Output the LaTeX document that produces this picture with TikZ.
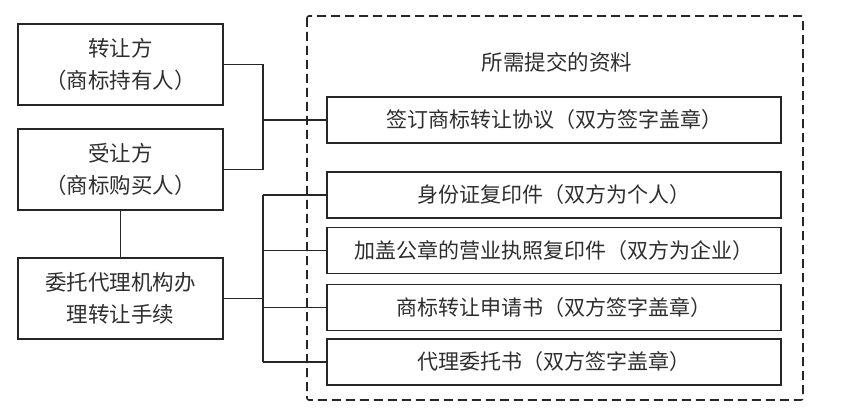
\documentclass[tikz,border=0pt]{standalone}
\usepackage{fontspec}
\setmainfont{Noto Sans CJK SC}
\begin{document}
\begin{tikzpicture}[x=1pt,y=-1pt,
  every node/.style={text=black!82},
  lbox/.style={draw=black!85,line width=1.8pt,minimum width=205pt,minimum height=81pt,align=center,inner sep=0pt,font=\fontsize{21.5}{32}\selectfont},
  rbox/.style={draw=black!85,line width=1.8pt,minimum width=454pt,minimum height=46pt,inner sep=0pt,font=\fontsize{21}{26}\selectfont},
  conn/.style={draw=black!85,line width=1.7pt}]
\useasboundingbox (0,0) rectangle (859,414);
\node[lbox] (t1) at (120.5,64.5) {转让方\\（商标持有人）};
\node[lbox] (t2) at (120.5,169.5) {受让方\\（商标购买人）};
\node[lbox] (t3) at (120.5,298.5) {委托代理机构办\\理转让手续};
\draw[draw=black!85,line width=1.6pt,dash pattern=on 9pt off 5pt,rounded corners=2pt] (307,16) rectangle (803,400);
\node[font=\fontsize{21.5}{26}\selectfont] (title) at (557,62) {所需提交的资料};
\node[rbox] (r1) at (554,120) {签订商标转让协议（双方签字盖章）};
\node[rbox] (r2) at (554,195) {身份证复印件（双方为个人）};
\node[rbox] (r3) at (554,250.5) {加盖公章的营业执照复印件（双方为企业）};
\node[rbox] (r4) at (554,307.5) {商标转让申请书（双方签字盖章）};
\node[rbox] (r5) at (554,362) {代理委托书（双方签字盖章）};
\coordinate (ja) at (263,0);
\coordinate (jb) at (263,0);
\draw[conn] (t1.east) -| (ja|-t2.east) -- (t2.east);
\draw[conn] (ja|-r1.west) -- (r1.west);
\draw[conn] (t2.south) -- (t3.north);
\draw[conn] (jb|-r2.west) -- (jb|-r5.west);
\draw[conn] (t3.east) -- (jb|-t3.east);
\draw[conn] (jb|-r2.west) -- (r2.west);
\draw[conn] (jb|-r3.west) -- (r3.west);
\draw[conn] (jb|-r4.west) -- (r4.west);
\draw[conn] (jb|-r5.west) -- (r5.west);
\end{tikzpicture}
\end{document}
